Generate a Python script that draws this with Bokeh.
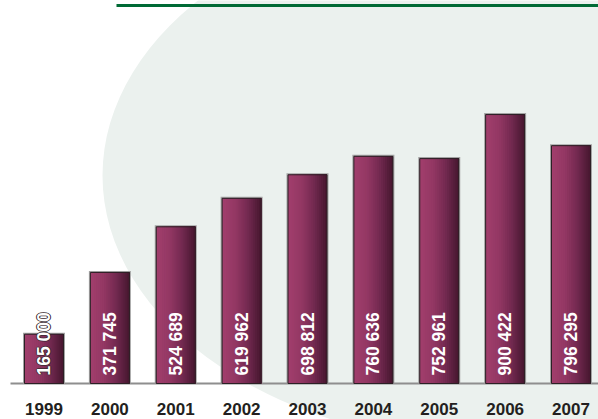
import numpy as np
from bokeh.plotting import figure
from bokeh.models import Range1d, ColumnDataSource
from bokeh.core.properties import value
from bokeh.embed import file_html
from bokeh.resources import INLINE

# ---- data ----
years = [1999, 2000, 2001, 2002, 2003, 2004, 2005, 2006, 2007]
values = [165000, 371745, 524689, 619962, 698812, 760636, 752961, 900422, 796295]
year_labels = [str(y) for y in years]
value_labels = [f"{v:,}".replace(",", " ") for v in values]

# ---- layout (pixel geometry of the reference) ----
W, H = 598, 419
PX_X = 65.875          # screen px per category step
PX_Y = 3348.0          # value units per screen px
X0 = years[0] - 43.5 / PX_X
X1 = X0 + W / PX_X
Y0 = -36 * PX_Y
Y1 = Y0 + H * PX_Y


def fx(rx):
    return X0 + rx / PX_X


def fy(ry):
    return Y1 - ry * PX_Y


p = figure(width=W, height=H, x_range=Range1d(X0, X1), y_range=Range1d(Y0, Y1),
           output_backend="svg", toolbar_location=None, min_border=0,
           x_axis_location=None, y_axis_location=None)
p.grid.visible = False
p.outline_line_color = None
p.background_fill_color = "white"
p.border_fill_color = "white"

# background ellipse
p.ellipse(x=[fx(502)], y=[fy(175)], width=800 / PX_X, height=540 * PX_Y,
          fill_color="#ebf1ee", line_color=None)

# title underline (title itself is cut off in the reference)
p.quad(left=[fx(116)], right=[X1], top=[fy(3.5)], bottom=[fy(6.5)],
       fill_color="#006a35", line_color=None)

# baseline
p.segment(x0=[fx(10)], y0=[0], x1=[X1], y1=[0], line_color="#8e8e8e", line_width=2)

# bars
BW = 39 / PX_X
xs = np.array(years, dtype=float)
vs = np.array(values, dtype=float)

# soft shadow
p.quad(left=xs - BW / 2 - 1.5 / PX_X, right=xs + BW / 2 + 1.5 / PX_X,
       top=vs + 1.5 * PX_Y, bottom=np.zeros_like(vs),
       fill_color="#a3a3a3", line_color=None)

# horizontal gradient as overlapping strips (painted left to right)
stops_t = [0.0, 0.35, 0.65, 1.0]
stops_c = [(0xa2, 0x3f, 0x6d), (0x93, 0x37, 0x63), (0x74, 0x2a, 0x51), (0x46, 0x17, 0x2f)]
N = 20
sl, sr, st, sb, sc = [], [], [], [], []
for x, v in zip(xs, vs):
    for j in range(N):
        t = (j + 0.5) / N
        rgb = [int(round(np.interp(t, stops_t, [c[k] for c in stops_c]))) for k in range(3)]
        sl.append(x - BW / 2 + j * BW / N)
        sr.append(x + BW / 2)
        st.append(v)
        sb.append(0)
        sc.append("#%02x%02x%02x" % tuple(rgb))
p.quad(left=sl, right=sr, top=st, bottom=sb, fill_color=sc, line_color=None)

# bar outline
p.quad(left=xs - BW / 2, right=xs + BW / 2, top=vs, bottom=np.zeros_like(vs),
       fill_color=None, line_color="#2c2025", line_width=1)

# value labels (vertical, white, bold)
LABEL_PAD = 8
LABEL_LEN = 63
lab_src = ColumnDataSource(dict(x=years, y=[0] * len(years), text=value_labels))
over = [i for i, v in enumerate(values) if v / PX_Y < LABEL_PAD + LABEL_LEN]
if over:
    ov_src = ColumnDataSource(dict(x=[years[i] for i in over], y=[0] * len(over),
                                   text=[value_labels[i] for i in over]))
    for dx, dy in [(-0.8, 0), (0.8, 0), (0, -0.8), (0, 0.8)]:
        p.text(x="x", y="y", text="text", source=ov_src, angle=np.pi / 2,
               text_align="left", text_baseline="middle",
               text_font=value("Liberation Sans"), text_font_style="bold",
               text_font_size="17.5px", text_color="#3a2a30",
               x_offset=dx, y_offset=-LABEL_PAD + dy)
p.text(x="x", y="y", text="text", source=lab_src, angle=np.pi / 2,
       text_align="left", text_baseline="middle",
       text_font=value("Liberation Sans"), text_font_style="bold",
       text_font_size="17.5px", text_color="white", y_offset=-LABEL_PAD)

# year labels
p.text(x=years, y=[0] * len(years), text=year_labels, y_offset=25,
       text_align="center", text_baseline="middle",
       text_font=value("Liberation Sans"), text_font_style="bold",
       text_font_size="17px", text_color="#231f20")

open("out.html", "w").write(file_html(p, INLINE))
